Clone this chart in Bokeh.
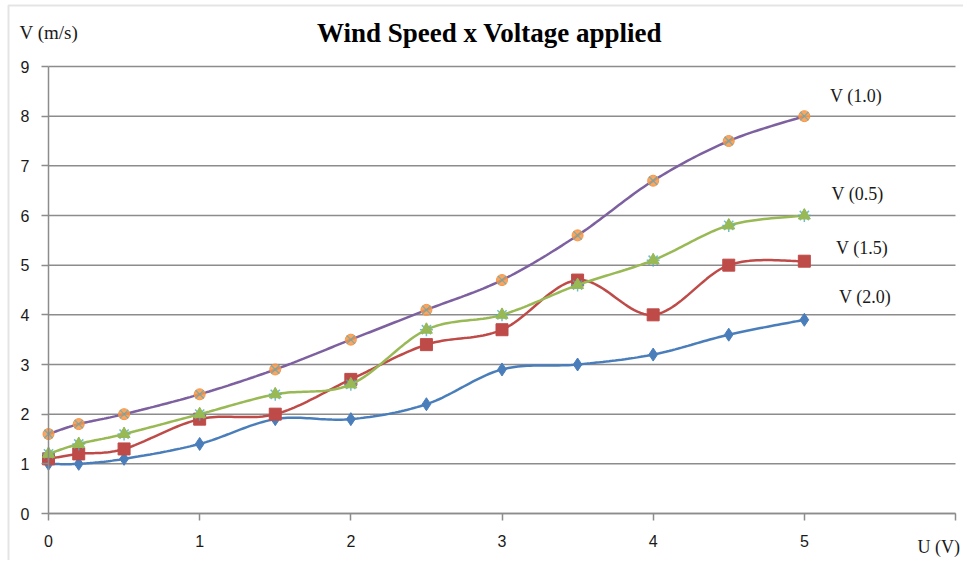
import numpy as np
from bokeh.plotting import figure
from bokeh.models import Label, FixedTicker, Range1d, BoxAnnotation
from bokeh.embed import file_html
from bokeh.resources import INLINE

# ---- data ----
u_volts = [0, 0.2, 0.5, 1, 1.5, 2, 2.5, 3, 3.5, 4, 4.5, 5]
v_20 = [1.0, 1.0, 1.1, 1.4, 1.9, 1.9, 2.2, 2.9, 3.0, 3.2, 3.6, 3.9]
v_15 = [1.1, 1.2, 1.3, 1.9, 2.0, 2.7, 3.4, 3.7, 4.7, 4.0, 5.0, 5.08]
v_05 = [1.2, 1.4, 1.6, 2.0, 2.4, 2.6, 3.7, 4.0, 4.6, 5.1, 5.8, 6.0]
v_10 = [1.6, 1.8, 2.0, 2.4, 2.9, 3.5, 4.1, 4.7, 5.6, 6.7, 7.5, 8.0]
series_names = ["V (1.0)", "V (0.5)", "V (1.5)", "V (2.0)"]
x_ticks = [0, 1, 2, 3, 4, 5, 6]
x_tick_labels = {0: "0", 1: "1", 2: "2", 3: "3", 4: "4", 5: "5", 6: ""}
y_ticks = [0, 1, 2, 3, 4, 5, 6, 7, 8, 9]

# ---- layout (pixels) ----
W, H = 963, 560
PLOT_L, PLOT_R, PLOT_T, PLOT_B = 48, 955, 66, 513
X0, X1 = 0, 6
Y0, Y1 = 0, 9
kx = (PLOT_R - PLOT_L) / (X1 - X0)
ky = (PLOT_B - PLOT_T) / (Y1 - Y0)
x_range = Range1d(X0 - PLOT_L / kx, X1 + (W - PLOT_R) / kx)
y_range = Range1d(Y0 - (H - PLOT_B) / ky, Y1 + PLOT_T / ky)


def smooth(xs, ys, n=24):
    """Excel-like smoothed line: cubic Bezier with Catmull-Rom control points,
    computed in screen space."""
    P = np.column_stack([np.asarray(xs, float) * kx, np.asarray(ys, float) * ky])
    out = [P[0]]
    m = len(P)
    for i in range(m - 1):
        p0 = P[i - 1] if i > 0 else P[i]
        p1 = P[i]
        p2 = P[i + 1]
        p3 = P[i + 2] if i + 2 < m else P[i + 1]
        c1 = p1 + (p2 - p0) / 6.0
        c2 = p2 - (p3 - p1) / 6.0
        t = np.linspace(0, 1, n + 1)[1:, None]
        pts = ((1 - t) ** 3) * p1 + 3 * ((1 - t) ** 2) * t * c1 + 3 * (1 - t) * t ** 2 * c2 + t ** 3 * p2
        out.extend(pts)
    out = np.array(out)
    return out[:, 0] / kx, out[:, 1] / ky


BLUE = "#4A7EBB"
RED = "#BE4B48"
GREEN = "#98B954"
PURPLE = "#7D60A0"
ORANGE = "#F79646"
AQUA = "#4BACC6"
GRID = "#8c8c8c"
TXT = "#1a1a1a"

p = figure(width=W, height=H, output_backend="svg", toolbar_location=None,
           x_range=x_range, y_range=y_range, title_location=None,
           min_border_left=0, min_border_right=0, min_border_top=0, min_border_bottom=0)
p.outline_line_color = None
p.background_fill_color = "white"
p.border_fill_color = "white"
p.xgrid.grid_line_color = None
p.ygrid.grid_line_color = None

# horizontal gridlines over the plot area only
p.segment(x0=[X0] * len(y_ticks), x1=[X1] * len(y_ticks), y0=y_ticks, y1=y_ticks,
          line_color=GRID, line_width=1.5)

# axes drawn at fixed positions inside the canvas
for ax in (p.xaxis[0], p.yaxis[0]):
    ax.fixed_location = 0
    ax.axis_line_color = GRID
    ax.axis_line_width = 1.5
    ax.major_tick_line_color = GRID
    ax.major_tick_line_width = 1.5
    ax.major_tick_in = 0
    ax.major_tick_out = 7
    ax.minor_tick_line_color = None
    ax.major_label_text_font = "Liberation Sans"
    ax.major_label_text_font_size = "16px"
    ax.major_label_text_color = TXT
p.xaxis.bounds = (X0, X1)
p.xaxis.ticker = FixedTicker(ticks=x_ticks)
p.xaxis.major_label_overrides = x_tick_labels
p.xaxis.major_label_standoff = 14
p.yaxis.bounds = (Y0, Y1)
p.yaxis.ticker = FixedTicker(ticks=y_ticks)
p.yaxis.major_label_standoff = 12

# series
sx, sy = smooth(u_volts, v_20)
p.line(sx, sy, line_color=BLUE, line_width=2.5)
p.scatter(u_volts, v_20, marker="diamond", size=13, fill_color=BLUE, line_color=BLUE)

sx, sy = smooth(u_volts, v_15)
p.line(sx, sy, line_color=RED, line_width=2.5)
p.scatter(u_volts, v_15, marker="square", size=12, fill_color=RED, line_color=RED)

sx, sy = smooth(u_volts, v_05)
p.line(sx, sy, line_color=GREEN, line_width=2.5)
p.scatter(u_volts, v_05, marker="asterisk", size=13, line_color=AQUA, line_width=1.5, line_alpha=0.8)
p.scatter(u_volts, v_05, marker="triangle", size=12, fill_color=GREEN, line_color=GREEN)

sx, sy = smooth(u_volts, v_10)
p.line(sx, sy, line_color=PURPLE, line_width=2.5)
p.scatter(u_volts, v_10, marker="circle", size=11, fill_color=ORANGE, line_color=ORANGE, fill_alpha=0.85)
p.scatter(u_volts, v_10, marker="x", size=12, line_color=AQUA, line_width=1.2, line_alpha=0.7)

# series labels
label_pos = [(5.17, 8.41), (5.18, 6.44), (5.21, 5.35), (5.23, 4.35)]
for name, (lx, ly) in zip(series_names, label_pos):
    p.add_layout(Label(x=lx, y=ly, text=name, text_font="Liberation Serif",
                       text_font_size="18px", text_color=TXT, text_baseline="middle"))

# title and axis titles (screen px, origin at canvas bottom-left)
p.add_layout(Label(x=489, y=H - 32, x_units="screen", y_units="screen",
                   text="Wind Speed x Voltage applied", text_font="Liberation Serif",
                   text_font_style="bold", text_font_size="27px", text_color="black",
                   text_align="center", text_baseline="middle"))
p.add_layout(Label(x=19, y=H - 32, x_units="screen", y_units="screen",
                   text="V (m/s)", text_font="Liberation Serif", text_font_size="19px",
                   text_color=TXT, text_baseline="middle"))
p.add_layout(Label(x=917, y=H - 546, x_units="screen", y_units="screen",
                   text="U (V)", text_font="Liberation Serif", text_font_size="18px",
                   text_color=TXT, text_baseline="middle"))

# chart-area border (only top and left edges fall inside the picture)
p.add_layout(BoxAnnotation(left=8, right=W + 40, top=H - 5, bottom=-40,
                           left_units="screen", right_units="screen",
                           top_units="screen", bottom_units="screen",
                           fill_alpha=0, line_color="#a6a6a6", line_width=2))

open("out.html", "w").write(file_html(p, INLINE))
